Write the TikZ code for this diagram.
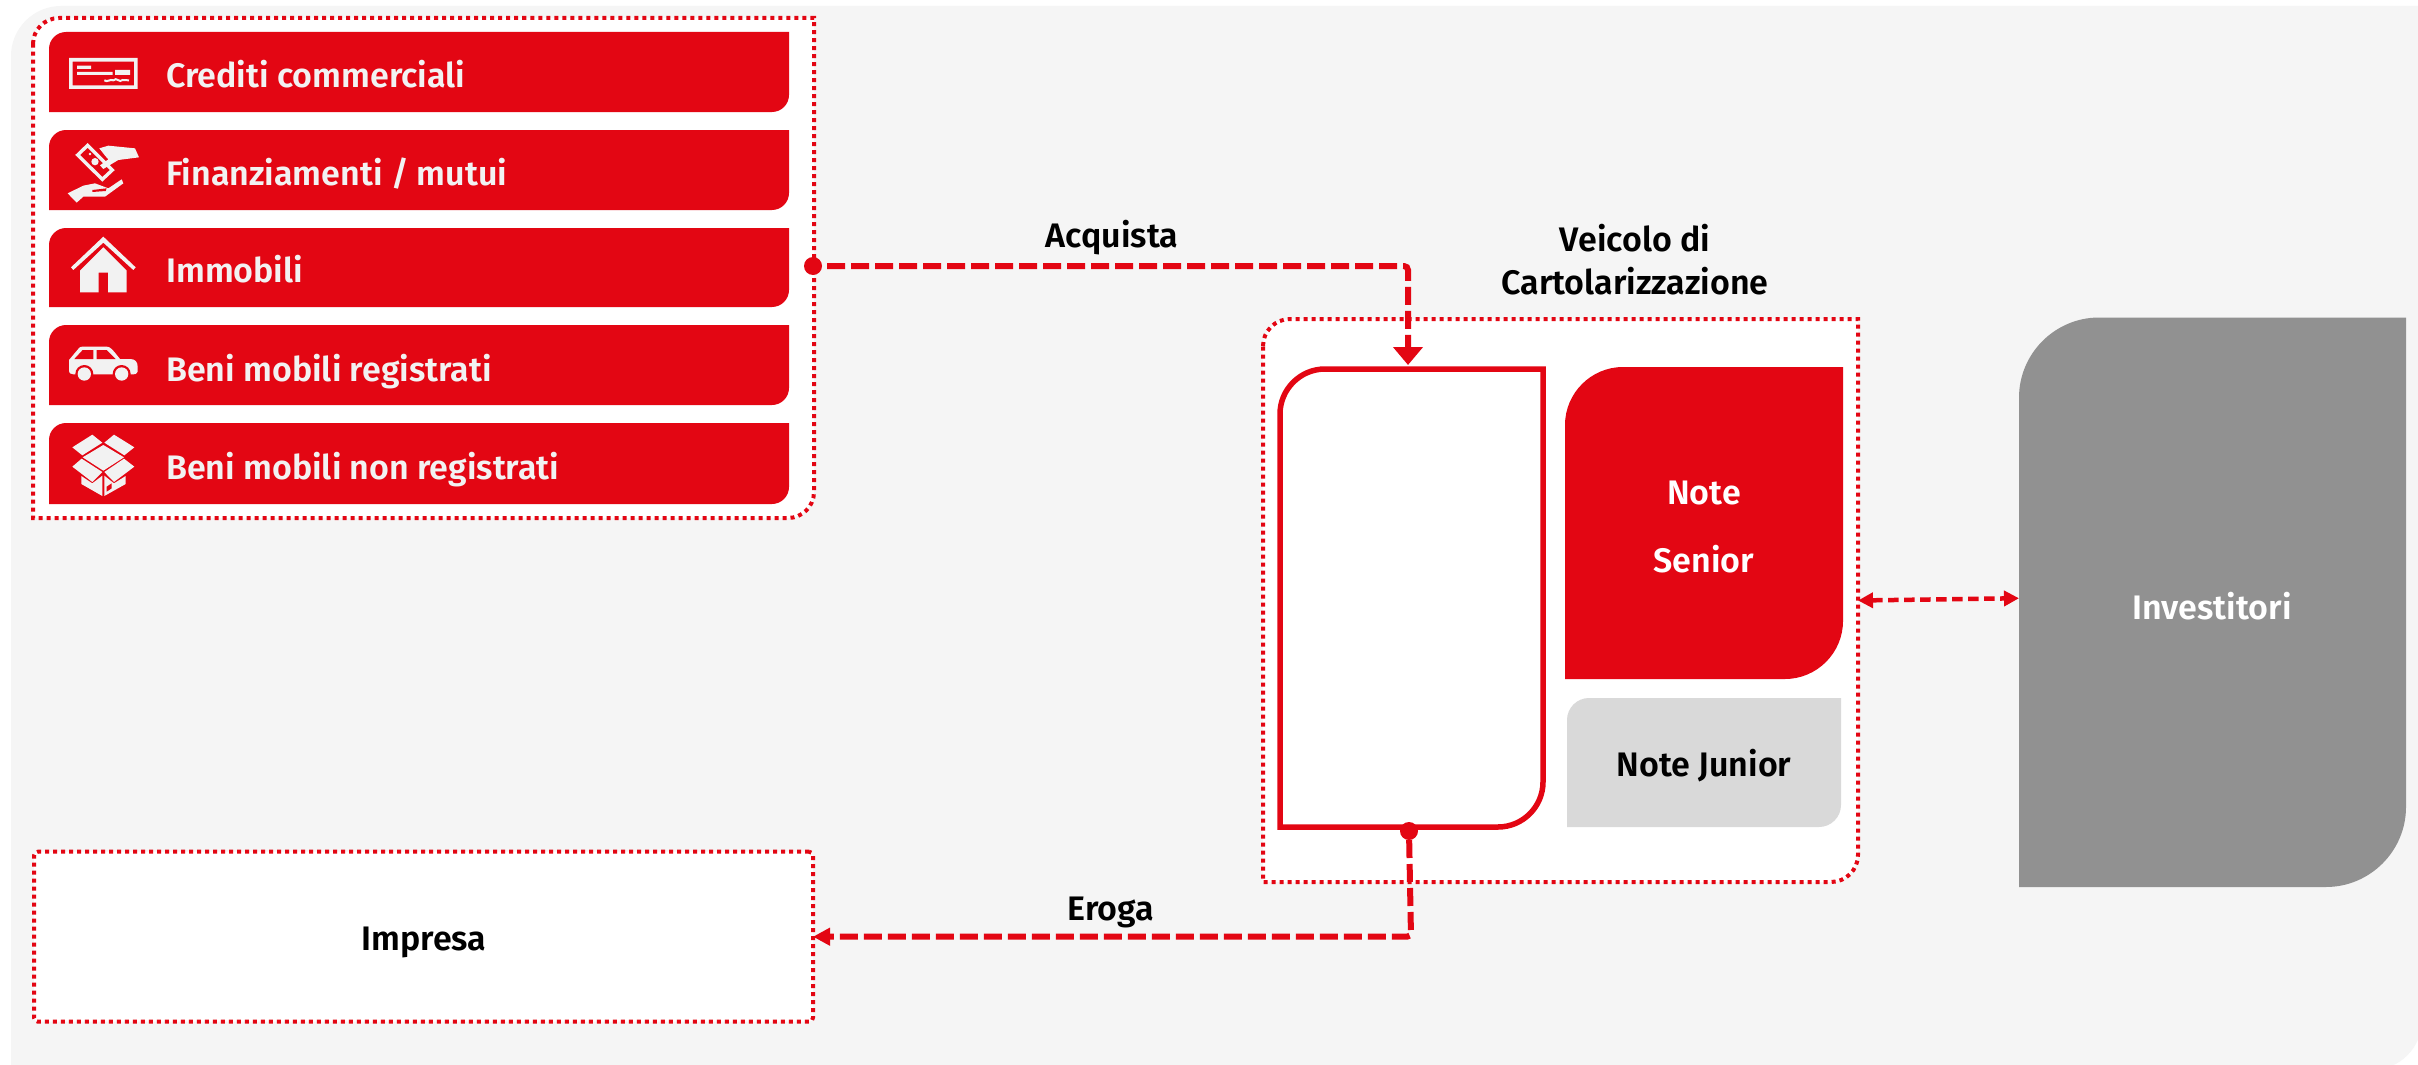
\documentclass[tikz,border=0pt]{standalone}
\usepackage{fontspec}
\usetikzlibrary{arrows.meta,calc}
\setmainfont{Fira Sans}[BoldFont={Fira Sans SemiBold}]
\definecolor{ured}{HTML}{E30613}
\definecolor{ugray}{HTML}{919191}
\definecolor{ujun}{HTML}{D9D9D9}
\definecolor{ubg}{HTML}{F5F5F5}
\definecolor{uico}{HTML}{F2F2F2}
\tikzset{
  dotbox/.style={draw=ured,line width=4pt,dash pattern=on 4pt off 4pt,fill=white},
  barbox/.style={fill=ured},
  lab/.style={font=\fontsize{34}{40}\selectfont\bfseries,inner sep=0pt,anchor=center},
  wlab/.style={lab,text=white},
  blab/.style={lab,text=black},
  barlab/.style={lab,text=uico,anchor=base west},
  flow/.style={draw=ured,line width=6pt,dash pattern=on 18pt off 6pt,rounded corners=4pt},
  thin flow/.style={draw=ured,line width=4.5pt,dash pattern=on 10.5pt off 5.5pt},
  ico/.style={fill=uico},
  dotend/.style={circle,fill=ured,minimum size=18pt,inner sep=0pt},
}
% name, x1,y1,x2,y2,radius,style: leaf shape with rounded top-left and bottom-right
\newcommand{\leafbox}[7]{%
  \path[#7] (#2,#3+#6) .. controls (#2,#3+0.45*#6) and (#2+0.45*#6,#3) .. (#2+#6,#3)
    -- (#4,#3) -- (#4,#5-#6) .. controls (#4,#5-0.45*#6) and (#4-0.45*#6,#5) .. (#4-#6,#5)
    -- (#2,#5) -- cycle;
  \node[inner sep=0pt,outer sep=0pt,minimum width=#4pt-#2pt,minimum height=#5pt-#3pt] (#1) at ({(#2+#4)/2},{(#3+#5)/2}) {};
}
\begin{document}
\begin{tikzpicture}[x=1pt,y=-1pt]
\useasboundingbox (0,0) rectangle (2418,1065);
\fill[white] (0,0) rectangle (2418,1065);
\begin{scope}
\clip (0,0) rectangle (2418,1065);
\leafbox{bg}{11}{6}{2422}{1070}{50}{fill=ubg}
\end{scope}

% list group
\leafbox{grp}{33}{18}{814}{518}{26}{dotbox}
\leafbox{b1}{49}{32}{789}{112}{17}{barbox}
\leafbox{b2}{49}{130}{789}{210}{17}{barbox}
\leafbox{b3}{49}{228}{789}{307}{17}{barbox}
\leafbox{b4}{49}{325}{789}{405}{17}{barbox}
\leafbox{b5}{49}{423}{789}{504}{17}{barbox}
\node[barlab] (t1) at (166,87.5) {Crediti commerciali};
\node[barlab] (t2) at (166,185) {Finanziamenti / mutui};
\node[barlab] (t3) at (166,282) {Immobili};
\node[barlab] (t4) at (166,381) {Beni mobili registrati};
\node[barlab] (t5) at (166,479) {Beni mobili non registrati};

% icons, drawn in zoomed-crop coordinates
\begin{scope}[shift={(40,20)},scale=0.33333]
  % cheque
  \path[ico,even odd rule] (87,114) rectangle (293,207) (98,125) rectangle (282,196);
  \path[ico] (111,137) rectangle (153,147) (111,156) rectangle (218,165) (225,150) rectangle (270,165);
  \draw[uico,line width=2pt] (193,181) .. controls (203,188) and (210,176) .. (220,181) .. controls (230,170) and (238,190) .. (248,180) -- (267,181);
  % banknote and hands
  \draw[uico,line width=3.4pt] (143,376) -- (217,450) -- (187,478) -- (113,405) -- cycle;
  \path[ico] (150,402) circle (4);
  \path[ico] (165,425) circle (11);
  \path[ico] (178,385) -- (205,377) -- (285,385) -- (297,412) -- (235,420) -- (190,447) -- (180,436) -- (205,418) -- (196,408) -- cycle;
  \path[ico] (83,520) -- (130,497) -- (165,490) -- (205,505) -- (245,478) -- (250,490) -- (195,530) -- (130,530) -- (110,548) -- cycle;
  \path[fill=ured] (157,510) -- (200,505) -- (197,513) -- (157,516) -- cycle;
  % house
  \path[ico] (93,742) -- (190,650) -- (287,742) -- (280,750) -- (190,668) -- (100,750) -- cycle;
  \path[ico] (120,817) -- (120,752) -- (190,682) -- (260,752) -- (260,817) -- (204,817) -- (204,758) -- (176,758) -- (176,817) -- cycle;
\end{scope}
\begin{scope}[shift={(40,310)},scale=0.33333]
  % car
  \path[ico] (87,150) -- (118,113) .. controls (120,110) and (125,110) .. (130,110) -- (200,110) .. controls (210,110) and (215,115) .. (240,147)
     -- (270,147) .. controls (285,147) and (293,155) .. (293,170) -- (293,185) .. controls (293,192) and (285,193) .. (275,193) -- (100,193) .. controls (92,193) and (87,190) .. (87,180) -- cycle;
  \path[fill=ured] (103,147) -- (128,120) -- (160,120) -- (160,147) -- cycle (170,120) -- (200,120) -- (227,147) -- (170,147) -- cycle;
  \path[fill=ured] (133,192) circle (27) (245,192) circle (27);
  \path[ico] (133,192) circle (20) (245,192) circle (20);
  % box
  \path[ico] (157,374) -- (187,398) -- (127,436) -- (97,412) -- cycle;
  \path[ico] (222,374) -- (283,412) -- (253,436) -- (193,398) -- cycle;
  \path[ico] (190,405) -- (252,442) -- (190,482) -- (128,442) -- cycle;
  \path[ico] (125,446) -- (187,486) -- (157,516) -- (97,470) -- cycle;
  \path[ico] (252,446) -- (283,470) -- (222,516) -- (193,486) -- cycle;
  \path[ico] (124,498) -- (157,520) -- (187,497) -- (187,558) -- (124,522) -- cycle;
  \path[ico] (193,497) -- (222,520) -- (257,498) -- (257,522) -- (193,558) -- cycle;
  \path[fill=ured] (200,530) -- (215,520) -- (215,535) -- (200,545) -- cycle;
\end{scope}

% vehicle
\leafbox{veh}{1263}{319}{1858}{882}{27}{dotbox}
\leafbox{asset}{1280}{369}{1543}{827}{45}{draw=ured,line width=5.5pt,fill=white,line join=miter}
\leafbox{senior}{1565}{367}{1843}{679}{58}{fill=ured}
\leafbox{junior}{1567}{698}{1841}{827}{22}{fill=ujun}
\leafbox{inv}{2019}{317.5}{2406}{887}{80}{fill=ugray}
\node[wlab] (n1) at (1704,493) {Note};
\node[wlab] (n2) at (1704,559) {Senior};
\node[blab] (nj) at (1704,766) {Note Junior};
\node[wlab] (ni) at (2212,606) {Investitori};
\node[blab] (vl1) at (1635,238) {Veicolo di};
\node[blab] (vl2) at (1635,281) {Cartolarizzazione};

% impresa
\node[dotbox,rounded corners=4pt,outer sep=0pt,inner sep=0pt,minimum width=779pt,minimum height=170pt,anchor=north west] (imp) at (34,851.7) {};
\node[blab] (impl) at (424,942) {Impresa};

% connectors
\node[dotend] (da) at (813,266) {};
\coordinate (ka) at (1408,266);
\coordinate (ta) at (1408,365);
\draw[flow,shorten <=14pt,-{Triangle[length=18pt,width=29pt]}] (da.center) -- (ka) -- (ta);
\node[dotend] (de) at (1409,831) {};
\coordinate (ke) at (1411,936.7);
\draw[flow,shorten <=9pt,-{Triangle[length=17pt,width=17pt]}] (de.center) -- (ke) -- (imp.east);
\draw[thin flow,{Triangle[length=15pt,width=15pt]}-{Triangle[length=15pt,width=15pt]}] (veh.east) -- ($(inv.west)+(0,-4)$);

\node[blab] (acq) at (1112,238) {Acquista};
\node[blab] (ero) at (1111,912) {Eroga};
\end{tikzpicture}
\end{document}
